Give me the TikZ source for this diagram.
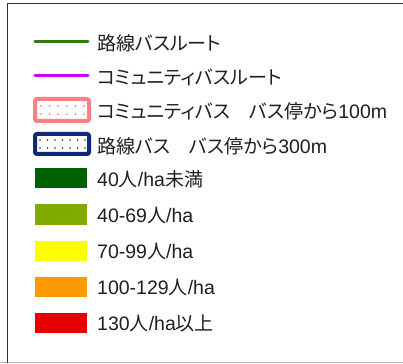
\documentclass[tikz,border=0pt]{standalone}
\usepackage{fontspec}
\setmainfont{Liberation Sans}
\newfontfamily\jp[RawFeature=+palt,Scale=0.975]{Noto Sans CJK JP}
\definecolor{routegreen}{HTML}{2F7A12}
\definecolor{routepurple}{HTML}{CC00FF}
\definecolor{pinkc}{HTML}{FF8080}
\definecolor{navyc}{HTML}{102A78}
\definecolor{dgreen}{HTML}{006000}
\definecolor{olive}{HTML}{7FAA00}
\definecolor{yel}{HTML}{FFFF00}
\definecolor{orng}{HTML}{FF9900}
\definecolor{redc}{HTML}{E60000}
\begin{document}
\begin{tikzpicture}[x=1pt,y=-1pt,
  lbl/.style={anchor=west,inner sep=0pt,font=\fontsize{19.5}{21}\selectfont,text=black!88},
  rline/.style={line width=3pt,line cap=round}]
\useasboundingbox (0,0) rectangle (403,363);
\fill[white] (0,0) rectangle (403,363);
% frame
\draw[gray!60,line width=0.8pt] (0,362.5) -- (403,362.5);
\draw[black!80,line width=1.6pt] (7.5,363) -- (7.5,3.5) -- (403,3.5);
% routes
\coordinate (g1) at (35,42); \coordinate (g2) at (88,42);
\draw[rline,routegreen] (g1) -- (g2);
\node[lbl] (t1) at (97,43) {\jp 路線バスルート};
\coordinate (p1) at (35,76); \coordinate (p2) at (88,76);
\draw[rline,routepurple] (p1) -- (p2);
\node[lbl] (t2) at (97,77) {\jp コミュニティバスルート};
% pink buffer
\draw[pinkc,line width=4pt,rounded corners=2pt,fill=white] (35,99) rectangle (89,121);
\foreach \i in {0,...,5} {
  \fill[pinkc] (41+\i*8.6,106) circle (1);
  \fill[pinkc] (41+\i*8.6,114) circle (1);
}
\node[lbl] (t3) at (97,111) {{\jp コミュニティバス　バス停から}100m};
% navy buffer
\draw[navyc,line width=4pt,rounded corners=2pt,fill=white] (35,134) rectangle (89,154);
\foreach \i in {0,...,6} {
  \fill[navyc] (40+\i*7.5,140) circle (0.9);
  \fill[navyc] (40+\i*7.5,148) circle (0.9);
}
\node[lbl] (t4) at (97,146) {{\jp 路線バス　バス停から}300m};
% density swatches
\fill[dgreen] (35,168) rectangle (87,188);
\node[lbl] (t5) at (97,179) {40{\jp 人}/ha{\jp 未満}};
\fill[olive] (35,204) rectangle (87,225);
\node[lbl] (t6) at (97,215) {40-69{\jp 人}/ha};
\fill[yel] (35,241) rectangle (87,261);
\node[lbl] (t7) at (97,251) {70-99{\jp 人}/ha};
\fill[orng] (35,277) rectangle (87,297);
\node[lbl] (t8) at (97,287) {100-129{\jp 人}/ha};
\fill[redc] (35,313) rectangle (87,333);
\node[lbl] (t9) at (97,323) {130{\jp 人}/ha{\jp 以上}};
\end{tikzpicture}
\end{document}
